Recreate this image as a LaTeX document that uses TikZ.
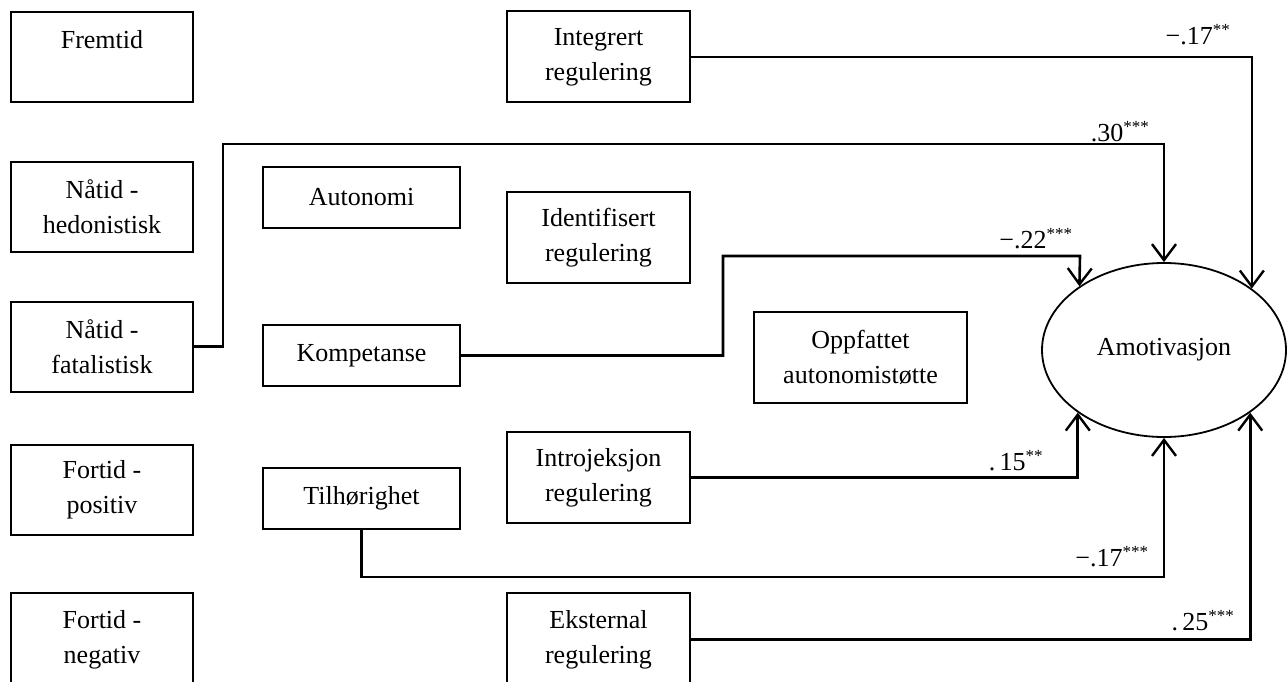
\documentclass[tikz,border=0pt]{standalone}
\usepackage{fontspec}
\setmainfont{Liberation Serif}
\usetikzlibrary{shapes.geometric,arrows.meta}
\newcommand{\sig}[1]{\textsuperscript{\fontsize{17}{17}\selectfont #1}}
\begin{document}
\begin{tikzpicture}[x=1pt,y=-1pt,
  every node/.style={font=\fontsize{26}{35}\selectfont},
  box/.style={draw,line width=2pt,inner sep=0pt,align=center},
  lbox/.style={box,minimum width=182pt,minimum height=90pt},
  mbox/.style={box,minimum width=197pt,minimum height=61pt},
  rbox/.style={box,minimum width=183pt,minimum height=91pt},
  conn/.style={line width=2.6pt},
  arr/.style={conn,-{Straight Barb[length=16pt,width=24pt,line width=2.4pt]}},
  coef/.style={inner sep=0pt}]
\useasboundingbox (0,0) rectangle (1288,682);
\clip (0,0) rectangle (1288,682);
% left column
\node[lbox] (fr) at (102,57) {Fremtid\\[0pt]~};
\node[lbox] (nh) at (102,207) {Nåtid -\\hedonistisk};
\node[lbox] (nf) at (102,346.5) {Nåtid -\\fatalistisk};
\node[lbox] (fp) at (102,489.5) {Fortid -\\positiv};
\node[lbox,minimum height=93pt] (fn) at (102,639.5) {Fortid -\\negativ};
% middle column
\node[mbox] (au) at (361.5,197.5) {Autonomi};
\node[mbox] (ko) at (361.5,355.5) {Kompetanse};
\node[mbox] (ti) at (361.5,498.5) {Tilhørighet};
% regulation column
\node[rbox] (ir) at (598.5,57) {Integrert\\regulering};
\node[rbox] (id) at (598.5,237.5) {Identifisert\\regulering};
\node[rbox] (ij) at (598.5,477.5) {Introjeksjon\\regulering};
\node[rbox,minimum height=93pt] (ek) at (598.5,639.5) {Eksternal\\regulering};
\node[box,minimum width=213pt,minimum height=91pt] (op) at (860.5,357.5) {Oppfattet\\autonomistøtte};
% outcome
\node[draw,ellipse,line width=1.8pt,inner sep=0pt,minimum width=244pt,minimum height=174pt] (amo) at (1164,350) {Amotivasjon};
% bend points
\coordinate (b30a) at (223,346.5);
\coordinate (b30b) at (1164,144);
\coordinate (b22a) at (723,355.5);
\coordinate (b22b) at (1080,256);
\coordinate (b17) at (1164,577);
% connectors
\draw[arr] (ir.east) -| (amo.35.66);
\draw[arr] (nf.east) -- (b30a) |- (b30b) -- (amo.north);
\draw[arr] (ko.east) -- (b22a) |- (b22b) -- (amo.143.1);
\draw[arr] (ij.east) -| (amo.216.3);
\draw[arr] (ti.south) |- (b17) -- (amo.south);
\draw[arr] (ek.east) -| (amo.324.34);
% coefficients
\node[coef] (c1) at (1198,35) {−.17\sig{**}};
\node[coef] (c2) at (1120,132) {.30\sig{***}};
\node[coef] (c3) at (1036,239) {−.22\sig{***}};
\node[coef] (c4) at (1016,461) {.\,15\sig{**}};
\node[coef] (c5) at (1112,557) {−.17\sig{***}};
\node[coef] (c6) at (1203,621) {.\,25\sig{***}};
\end{tikzpicture}
\end{document}
